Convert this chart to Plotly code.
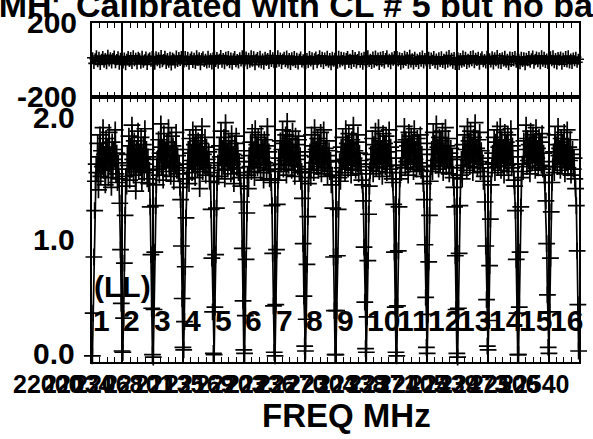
import plotly.graph_objects as go

# ---------------- data ----------------
if_labels = [str(i) for i in range(1, 17)]
freq_labels = ["22000", "22034", "22068", "22101", "22135", "22169", "22203", "22236",
               "22270", "22304", "22338", "22371", "22405", "22439", "22473", "22506", "22540"]
y_amp_labels = ["0.0", "1.0", "2.0"]
y_amp_vals = [0.0, 1.0, 2.0]
y_ph_labels = ["-200", "200"]
y_ph_vals = [-200, 200]

# amplitude: 40 channels per IF
amp_by_if = [
    [0.05,0.40,0.86,1.24, 1.48,1.62,1.55,1.79,1.41,1.68,1.86,1.52,1.73,1.60,1.92,1.57,1.70,1.45,1.83,1.64,1.76,1.51,1.88,1.62,1.69,1.43,1.80,1.58,1.74,1.66,1.90,1.54,1.71,1.47,1.63,1.50, 1.30,0.92,0.48,0.09],
    [0.08,0.36,0.81,1.20, 1.52,1.44,1.70,1.61,1.85,1.49,1.77,1.58,1.94,1.66,1.53,1.81,1.69,1.40,1.75,1.63,1.89,1.56,1.72,1.60,1.84,1.47,1.67,1.78,1.55,1.91,1.62,1.74,1.50,1.68,1.46,1.57, 1.27,0.88,0.44,0.06],
    [0.04,0.43,0.90,1.28, 1.45,1.66,1.58,1.82,1.53,1.71,1.95,1.60,1.76,1.49,1.87,1.64,1.73,1.56,1.80,1.68,1.92,1.59,1.70,1.52,1.85,1.63,1.77,1.48,1.74,1.61,1.88,1.57,1.69,1.54,1.62,1.43, 1.33,0.95,0.52,0.12],
    [0.10,0.33,0.78,1.18, 1.50,1.59,1.74,1.46,1.83,1.65,1.71,1.55,1.90,1.62,1.78,1.51,1.86,1.67,1.58,1.81,1.73,1.42,1.79,1.64,1.93,1.56,1.70,1.61,1.84,1.53,1.76,1.66,1.59,1.72,1.48,1.55, 1.25,0.85,0.41,0.07],
    [0.06,0.45,0.88,1.26, 1.47,1.63,1.52,1.77,1.68,1.89,1.57,1.74,1.61,1.84,1.50,1.96,1.66,1.72,1.58,1.81,1.65,1.75,1.54,1.87,1.62,1.70,1.46,1.79,1.67,1.85,1.59,1.73,1.55,1.64,1.51,1.44, 1.31,0.93,0.50,0.10],
    [0.07,0.38,0.84,1.22, 1.53,1.42,1.69,1.60,1.80,1.56,1.88,1.64,1.73,1.51,1.91,1.67,1.78,1.59,1.84,1.62,1.70,1.55,1.86,1.68,1.75,1.49,1.82,1.63,1.77,1.57,1.93,1.61,1.72,1.50,1.58,1.47, 1.28,0.89,0.46,0.08],
    [0.05,0.47,0.92,1.29, 1.49,1.67,1.56,1.81,1.62,1.74,1.90,1.58,1.79,1.65,1.86,1.53,1.97,1.70,1.61,1.83,1.68,1.76,1.57,1.89,1.64,1.72,1.52,1.85,1.66,1.78,1.60,1.82,1.55,1.69,1.48,1.56, 1.34,0.97,0.54,0.13],
    [0.09,0.35,0.80,1.19, 1.46,1.58,1.72,1.51,1.86,1.63,1.77,1.55,1.92,1.68,1.74,1.60,1.83,1.57,1.79,1.66,1.88,1.54,1.71,1.62,1.90,1.59,1.75,1.64,1.81,1.52,1.69,1.73,1.56,1.65,1.45,1.53, 1.26,0.86,0.42,0.06],
    [0.06,0.42,0.87,1.25, 1.51,1.64,1.48,1.76,1.59,1.84,1.66,1.72,1.55,1.91,1.63,1.79,1.58,1.87,1.69,1.75,1.53,1.82,1.61,1.94,1.67,1.73,1.57,1.80,1.62,1.86,1.54,1.71,1.65,1.60,1.49,1.45, 1.32,0.94,0.49,0.11],
    [0.08,0.37,0.83,1.21, 1.44,1.57,1.70,1.62,1.83,1.54,1.78,1.66,1.89,1.59,1.75,1.63,1.92,1.56,1.81,1.68,1.74,1.52,1.87,1.64,1.79,1.60,1.85,1.55,1.72,1.67,1.90,1.58,1.76,1.61,1.50,1.47, 1.29,0.90,0.45,0.08],
    [0.05,0.46,0.91,1.27, 1.50,1.61,1.55,1.80,1.67,1.73,1.93,1.59,1.82,1.64,1.77,1.53,1.88,1.69,1.62,1.85,1.71,1.78,1.56,1.91,1.66,1.74,1.58,1.83,1.63,1.79,1.60,1.86,1.57,1.70,1.52,1.46, 1.33,0.96,0.53,0.12],
    [0.07,0.39,0.82,1.20, 1.48,1.60,1.74,1.56,1.88,1.65,1.79,1.61,1.95,1.70,1.76,1.58,1.84,1.63,1.81,1.67,1.89,1.55,1.73,1.64,1.92,1.60,1.77,1.66,1.83,1.54,1.71,1.75,1.59,1.68,1.51,1.43, 1.27,0.87,0.43,0.07],
    [0.04,0.44,0.89,1.28, 1.53,1.66,1.50,1.78,1.61,1.86,1.68,1.74,1.57,1.93,1.65,1.81,1.60,1.89,1.71,1.77,1.55,1.84,1.63,1.96,1.69,1.75,1.59,1.82,1.64,1.88,1.56,1.73,1.67,1.62,1.48,1.52, 1.31,0.95,0.51,0.13],
    [0.10,0.34,0.79,1.17, 1.45,1.59,1.71,1.63,1.84,1.55,1.80,1.67,1.90,1.60,1.76,1.64,1.93,1.57,1.82,1.69,1.75,1.53,1.88,1.65,1.80,1.61,1.86,1.56,1.73,1.68,1.91,1.59,1.77,1.62,1.49,1.44, 1.24,0.84,0.40,0.06],
    [0.06,0.45,0.90,1.27, 1.51,1.62,1.56,1.81,1.68,1.74,1.94,1.60,1.83,1.65,1.78,1.54,1.89,1.70,1.63,1.86,1.72,1.79,1.57,1.92,1.67,1.75,1.59,1.84,1.64,1.80,1.61,1.87,1.58,1.71,1.53,1.47, 1.32,0.97,0.55,0.12],
    [0.07,0.41,0.85,1.23, 1.47,1.60,1.72,1.55,1.86,1.64,1.78,1.60,1.93,1.69,1.75,1.57,1.83,1.62,1.80,1.66,1.88,1.54,1.72,1.63,1.90,1.59,1.76,1.65,1.82,1.53,1.70,1.74,1.58,1.67,1.50,1.42, 1.28,0.91,0.47,0.09],
]

# phase (degrees): 24 channels per IF
phase_by_if = [
    [12,-18,6,22,-9,15,-24,3,19,-12,8,-20,25,-5,11,-16,7,21,-14,2,17,-22,9,-7],
    [-15,10,-25,4,18,-8,13,-19,23,-3,9,-21,14,6,-17,20,-11,1,16,-24,5,12,-6,19],
    [8,-22,17,-4,11,-14,24,-9,2,20,-18,7,-12,15,-26,10,4,-16,21,-7,13,-2,18,-20],
    [-10,19,-6,14,-23,5,16,-13,9,-19,22,-1,11,-25,7,17,-8,3,-15,20,-11,6,-21,12],
    [21,-7,13,-17,4,24,-11,8,-20,15,-3,18,-14,10,-23,6,19,-9,2,-16,12,-5,22,-13],
    [-4,16,-20,9,-12,22,-6,17,-25,3,13,-10,20,-15,5,-22,14,-2,8,-18,24,-8,11,-14],
    [14,-11,23,-6,10,-19,3,15,-9,21,-16,7,-24,12,-4,18,-13,9,-21,4,16,-10,1,-17],
    [-20,8,-13,18,-5,11,-22,6,16,-14,2,23,-9,14,-18,10,-3,20,-12,7,-25,15,-6,9],
    [5,-17,20,-10,15,-3,12,-21,8,19,-13,4,-19,24,-7,13,-16,2,17,-11,9,-23,14,-4],
    [-13,22,-8,3,-18,16,-11,21,-4,10,-24,14,-6,19,-15,8,22,-9,4,-20,11,-1,18,-12],
    [18,-5,11,-23,7,-14,20,-2,13,-17,25,-10,6,-21,15,-8,3,-19,12,-6,21,-15,7,-3],
    [-7,14,-19,10,-2,19,-16,5,-22,12,-8,17,-13,4,-20,16,-11,24,-5,9,-17,13,-24,6],
    [11,-24,8,-12,21,-6,15,-18,3,-10,18,-4,23,-14,9,-2,14,-22,6,17,-9,2,-16,20],
    [-16,6,-10,17,-21,12,-3,24,-15,7,-19,11,-5,20,-12,3,-25,16,-8,13,-3,19,-11,8],
    [3,-20,15,-8,12,-25,9,-4,18,-12,6,21,-17,2,16,-9,11,-20,23,-6,14,-13,5,-18],
    [-9,17,-3,22,-14,7,-21,13,-1,16,-23,9,-7,18,-10,22,-15,5,-19,10,-4,15,-12,4],
]

N_IF = len(amp_by_if)
N_CH = len(amp_by_if[0])
N_PH = len(phase_by_if[0])

amp_x, amp = [], []
for i in range(N_IF):
    for j in range(N_CH):
        amp_x.append(i + (j + 0.5) / N_CH)
        amp.append(amp_by_if[i][j])
ph_x, phase = [], []
for i in range(N_IF):
    for j in range(N_PH):
        ph_x.append(i + (j + 0.5) / N_PH)
        phase.append(phase_by_if[i][j])

W, H = 593, 439
def px(v):
    return v / W
def py(v):
    return (H - v) / H

FONT = "Liberation Sans"
def f(size):
    return dict(family=FONT, size=size, color="black", weight="bold")

fig = go.Figure()
fig.add_trace(go.Scatter(
    x=ph_x, y=phase, xaxis="x2", yaxis="y2", mode="lines+markers", cliponaxis=False,
    line=dict(color="black", width=2.4),
    marker=dict(symbol="cross-thin", size=8, line=dict(width=1.6, color="black")),
    hoverinfo="skip", showlegend=False))
fig.add_trace(go.Scatter(
    x=amp_x, y=amp, xaxis="x", yaxis="y", mode="lines+markers", cliponaxis=False,
    line=dict(color="black", width=1.7),
    marker=dict(symbol="cross-thin", size=12, line=dict(width=1.7, color="black")),
    hoverinfo="skip", showlegend=False))

xdom = [px(92), px(579)]
common_x = dict(
    domain=xdom, range=[0, N_IF], showgrid=True, dtick=1, tick0=0,
    gridcolor="black", gridwidth=2, ticks="inside", ticklen=7, tickwidth=1.5,
    tickcolor="black", showline=True, linewidth=2, linecolor="black",
    mirror="ticks", showticklabels=False, zeroline=False,
    minor=dict(dtick=0.25, ticks="inside", ticklen=5, tickwidth=1.2,
               tickcolor="black", showgrid=False),
)
fig.update_layout(
    width=W, height=H, margin=dict(l=0, r=0, t=0, b=0),
    paper_bgcolor="white", plot_bgcolor="white",
    xaxis=dict(anchor="y", **common_x),
    xaxis2=dict(anchor="y2", matches="x", **common_x),
    yaxis=dict(domain=[py(362), py(97)], range=[0, 2.17], showline=True,
               linewidth=2, linecolor="black", mirror=True, showgrid=False,
               zeroline=False, showticklabels=False, ticks=""),
    yaxis2=dict(domain=[py(97), py(23)], range=[-200, 200], showline=True,
                linewidth=2, linecolor="black", mirror=True, showgrid=False,
                zeroline=False, showticklabels=False, ticks=""),
)

ann = []
for lab, v in zip(y_amp_labels, y_amp_vals):
    ann.append(dict(x=px(77), xref="paper", y=v, yref="y", text=lab, showarrow=False,
                    xanchor="right", yanchor="middle", yshift=9 if v == 0 else 0,
                    font=f(30)))
for lab, v in zip(y_ph_labels, y_ph_vals):
    ann.append(dict(x=px(79), xref="paper", y=v, yref="y2", text=lab, showarrow=False,
                    xanchor="right", yanchor="middle", font=f(30)))
for i, lab in enumerate(if_labels):
    ann.append(dict(x=i, xref="x", xshift=-1, y=py(320), yref="paper", text=lab,
                    showarrow=False, xanchor="left", yanchor="middle", font=f(30)))
ann.append(dict(x=0, xref="x", xshift=0, y=py(286), yref="paper", text="(LL)",
                showarrow=False, xanchor="left", yanchor="middle", font=f(30)))
for i, lab in enumerate(freq_labels):
    ann.append(dict(x=i, xref="x", xshift=-44, y=py(384), yref="paper", text=lab,
                    showarrow=False, xanchor="center", yanchor="middle", font=f(25)))
ann.append(dict(x=px(347), xref="paper", y=py(415), yref="paper", text="FREQ MHz",
                showarrow=False, xanchor="center", yanchor="middle", font=f(33)))
ann.append(dict(x=px(74), xref="paper", y=py(5), yref="paper",
                text="Calibrated with CL # 5 but no bandpass", showarrow=False,
                xanchor="left", yanchor="middle", font=f(34)))
ann.append(dict(x=px(62), xref="paper", y=py(5), yref="paper", text="LMH'",
                showarrow=False, xanchor="right", yanchor="middle", font=f(34)))
fig.update_layout(annotations=ann)

fig.write_html("out.html", config={"displayModeBar": False},
               post_script="document.body.style.margin='0';")
